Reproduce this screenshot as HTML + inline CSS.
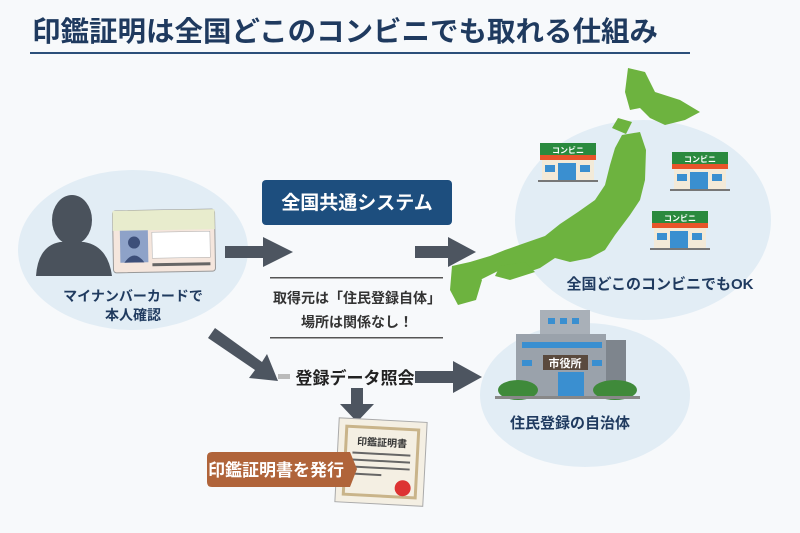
<!DOCTYPE html>
<html><head><meta charset="utf-8"><style>
html,body{margin:0;padding:0;background:#f7f9fb;}
svg{display:block;font-family:"Liberation Sans","Noto Sans CJK JP",sans-serif;}
</style></head><body>
<svg width="800" height="533" viewBox="0 0 800 533" xmlns="http://www.w3.org/2000/svg">
<rect width="800" height="533" fill="#f7f9fb"/>
<text x="32" y="41" font-size="28" font-weight="bold" fill="#1f3a5f" textLength="626" lengthAdjust="spacingAndGlyphs">印鑑証明は全国どこのコンビニでも取れる仕組み</text>
<rect x="30" y="52" width="660" height="2" fill="#2b4f7a"/>

<!-- left -->
<ellipse cx="133" cy="250" rx="115" ry="80" fill="#e2edf5"/>
<g fill="#4a525c">
<ellipse cx="72" cy="220" rx="20" ry="25"/>
<path d="M36 276 Q38 246 60 242 L84 242 Q108 246 112 276 Z"/>
</g>
<g transform="rotate(-1 165 240)">
<rect x="113" y="210" width="102" height="62" rx="3" fill="#f5e6dd" stroke="#999" stroke-width="1"/>
<rect x="113" y="210" width="102" height="20" fill="#e8eccd"/>
<rect x="120" y="230" width="28" height="32" fill="#8ea2c8"/>
<circle cx="134" cy="242" r="6" fill="#3d4f7a"/><path d="M124 262 Q134 248 144 262Z" fill="#3d4f7a"/>
<rect x="152" y="232" width="58" height="26" fill="#fff" stroke="#aaa" stroke-width="0.5"/>
<rect x="152" y="263" width="58" height="3" fill="#666"/>
</g>
<text x="133" y="301" font-size="14" font-weight="bold" fill="#1f3a5f" text-anchor="middle">マイナンバーカードで</text>
<text x="133" y="320" font-size="14" font-weight="bold" fill="#1f3a5f" text-anchor="middle">本人確認</text>

<!-- system -->
<rect x="262" y="180" width="190" height="45" rx="4" fill="#1d4e7e"/>
<text x="357" y="209" font-size="19" font-weight="bold" fill="#fff" text-anchor="middle">全国共通システム</text>
<g fill="#4d5560">
<rect x="225" y="246" width="40" height="12"/><polygon points="263,237 293,252 263,267"/>
<rect x="415" y="246" width="35" height="12"/><polygon points="448,237 476,252 448,267"/>
<rect x="415" y="371" width="40" height="12"/><polygon points="453,361 482,377 453,393"/>
<rect x="351" y="388" width="12" height="18"/><polygon points="340,404 374,404 357,422"/>
<polygon points="208,338 215,328 262,362 267,354 278,381 249,378 255,370"/>
</g>
<rect x="270" y="277" width="173" height="1.5" fill="#555"/>
<rect x="270" y="337" width="173" height="1.5" fill="#555"/>
<text x="357" y="303" font-size="14" font-weight="bold" fill="#333" text-anchor="middle">取得元は「住民登録自体」</text>
<text x="357" y="327" font-size="14" font-weight="bold" fill="#333" text-anchor="middle">場所は関係なし！</text>
<rect x="278" y="374" width="12" height="5" fill="#bbb"/>
<text x="355" y="384" font-size="17" font-weight="bold" fill="#222" text-anchor="middle">登録データ照会</text>

<!-- certificate -->
<g transform="rotate(3 380 462)">
<rect x="337" y="420" width="88" height="84" fill="#f4efe3" stroke="#aaa"/>
<rect x="345" y="428" width="72" height="68" fill="none" stroke="#c9b48a" stroke-width="3"/>
<text x="381" y="446" font-size="10" font-weight="bold" fill="#333" text-anchor="middle">印鑑証明書</text>
<rect x="352" y="453" width="58" height="2" fill="#666"/><rect x="352" y="460" width="58" height="2" fill="#666"/><rect x="352" y="467" width="58" height="2" fill="#666"/><rect x="352" y="474" width="30" height="2" fill="#666"/>
<circle cx="404" cy="487" r="8" fill="#d33"/>
</g>
<path d="M212 452 H350 L357 469 L350 487 H212 Q207 487 207 482 V457 Q207 452 212 452Z" fill="#b0643a"/>
<text x="276" y="476" font-size="17" font-weight="bold" fill="#fff" text-anchor="middle">印鑑証明書を発行</text>

<!-- right top -->
<ellipse cx="643" cy="220" rx="128" ry="100" fill="#e2edf5"/>
<g fill="#6db33f">
<path d="M628 68 L645 72 L655 92 L680 100 L700 112 L685 120 L665 125 L650 118 L640 108 L630 110 L625 92 Z"/>
<path d="M618 118 L632 122 L626 134 L612 128 Z"/>
<path d="M622 135 L640 132 L646 150 L645 180 L640 200 L630 215 L615 235 L605 250 L590 258 L570 262 L555 258 L540 268 L520 275 L500 270 L480 280 L462 283 L455 272 L470 262 L490 256 L505 250 L522 244 L545 236 L560 224 L578 212 L595 200 L605 185 L610 165 L615 148 Z"/>
<path d="M500 266 L525 262 L535 272 L510 280 L495 276Z"/>
<path d="M452 266 L470 262 L482 280 L476 300 L458 305 L450 290Z"/>
</g>
<g id="shop">
<rect x="540" y="143" width="56" height="12" fill="#2a8a3e"/>
<text x="568" y="153" font-size="8" font-weight="bold" fill="#fff" text-anchor="middle">コンビニ</text>
<rect x="540" y="155" width="56" height="5" fill="#e8542a"/>
<rect x="542" y="160" width="52" height="20" fill="#f3ead8"/>
<rect x="558" y="163" width="18" height="17" fill="#3a8fd0"/>
<rect x="545" y="165" width="10" height="7" fill="#3a8fd0"/><rect x="580" y="165" width="10" height="7" fill="#3a8fd0"/>
<rect x="538" y="180" width="60" height="2" fill="#777"/>
</g>
<use href="#shop" transform="translate(132,9)"/>
<use href="#shop" transform="translate(112,68)"/>
<text x="660" y="289" font-size="15" font-weight="bold" fill="#1f3a5f" text-anchor="middle">全国どこのコンビニでもOK</text>

<!-- right bottom -->
<ellipse cx="585" cy="395" rx="105" ry="72" fill="#e2edf5"/>
<rect x="540" y="310" width="50" height="30" fill="#a9b0b8"/>
<rect x="516" y="334" width="90" height="62" fill="#9aa2ab"/>
<rect x="606" y="340" width="20" height="56" fill="#7e858d"/>
<g fill="#3a8fd0"><rect x="548" y="318" width="7" height="6"/><rect x="560" y="318" width="7" height="6"/><rect x="572" y="318" width="7" height="6"/>
<rect x="522" y="342" width="80" height="6"/><rect x="522" y="360" width="10" height="6"/><rect x="592" y="360" width="10" height="6"/><rect x="558" y="372" width="26" height="24"/></g>
<rect x="543" y="355" width="45" height="15" fill="#5a4a3e"/>
<text x="565" y="367" font-size="11" font-weight="bold" fill="#fff" text-anchor="middle">市役所</text>
<ellipse cx="518" cy="390" rx="20" ry="10" fill="#3f8a3a"/><ellipse cx="615" cy="390" rx="22" ry="10" fill="#3f8a3a"/>
<rect x="495" y="396" width="145" height="3" fill="#888"/>
<text x="570" y="428" font-size="15" font-weight="bold" fill="#1f3a5f" text-anchor="middle">住民登録の自治体</text>
</svg>
</body></html>
